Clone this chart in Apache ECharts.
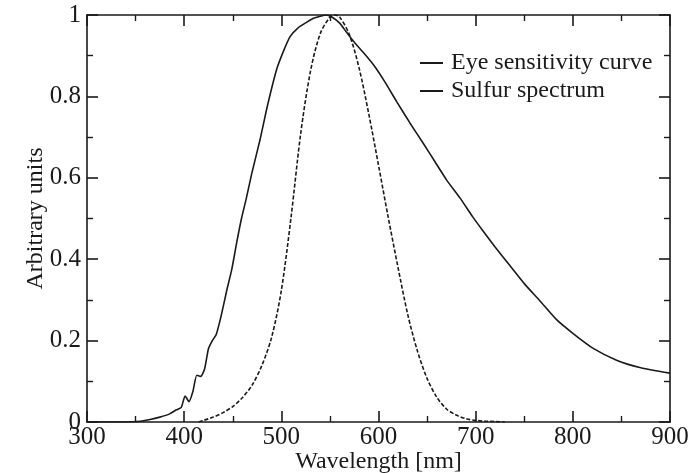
<!DOCTYPE html>
<html>
<head>
<meta charset="utf-8">
<script src="https://cdn.jsdelivr.net/npm/echarts@6/dist/echarts.min.js"></script>
<style>
  html, body { margin: 0; padding: 0; background: #fff; }
  #myChart { width: 697px; height: 473px; }
</style>
</head>
<body>
<div id="myChart"></div>
<script>
// 人眼视觉曲线 (dashed)
const eyeWl = [415, 420, 430, 440, 450, 460, 470, 480, 490, 500, 510, 520, 530, 540, 550, 555,
  560, 570, 580, 590, 600, 610, 620, 630, 640, 650, 660, 670, 680, 690, 700, 710, 720, 730];
const eyeVal = [0, 0.004, 0.012, 0.023, 0.038, 0.06, 0.091, 0.139, 0.208, 0.323, 0.503, 0.71, 0.862, 0.954, 0.995, 1.0,
  0.995, 0.952, 0.87, 0.757, 0.631, 0.503, 0.381, 0.265, 0.175, 0.107, 0.061, 0.032, 0.017, 0.008, 0.004, 0.002, 0.001, 0];

// 硫灯光谱 (solid)
const sulfurWl = [300, 340, 355, 365, 375, 385, 392, 397, 401, 405, 409, 413, 417, 421, 425, 429, 433, 438, 444, 449,
  454, 459, 464, 470, 478, 486, 495, 502, 509, 517, 526, 533, 540, 546, 552, 560, 567, 574, 584, 595,
  607, 619, 632, 646, 658, 670, 684, 697, 708, 720, 735, 750, 766, 783, 800, 821, 845, 869, 900];
const sulfurVal = [0, 0, 0.002, 0.006, 0.012, 0.02, 0.03, 0.036, 0.064, 0.05, 0.075, 0.115, 0.112, 0.13, 0.18, 0.2, 0.215, 0.26, 0.325, 0.375,
  0.44, 0.5, 0.55, 0.615, 0.693, 0.78, 0.865, 0.91, 0.947, 0.968, 0.982, 0.992, 0.997, 1.0, 0.995, 0.98, 0.958, 0.936, 0.909, 0.877,
  0.834, 0.786, 0.736, 0.685, 0.64, 0.595, 0.55, 0.504, 0.468, 0.43, 0.385, 0.34, 0.298, 0.252, 0.218, 0.181, 0.152, 0.134, 0.12];

const seriesNames = ['Eye sensitivity curve', 'Sulfur spectrum'];

const FONT = 'Liberation Serif';
const INK = '#1a1a1a';

function pairs(xs, ys) {
  return xs.map((x, i) => [x, ys[i]]);
}

function frameAxis(extra) {
  return Object.assign({
    axisLine: { show: true, onZero: false, lineStyle: { color: INK, width: 1.6 } },
    axisTick: { show: true, inside: true, length: 11, lineStyle: { color: INK, width: 1.6 } },
    minorTick: { show: true, splitNumber: 2, length: 6, lineStyle: { color: INK, width: 1.4 } },
    splitLine: { show: false },
    minorSplitLine: { show: false },
  }, extra);
}

const myChart = echarts.init(document.getElementById('myChart'));
myChart.setOption({
  animation: false,
  textStyle: { fontFamily: FONT },
  grid: {
    left: 87,
    right: 27,
    top: 15,
    bottom: 51,
    outerBoundsMode: 'none',
  },
  legend: {
    data: seriesNames,
    orient: 'vertical',
    left: 415,
    top: 46,
    icon: 'rect',
    itemWidth: 23,
    itemHeight: 2,
    itemGap: 4,
    textStyle: { fontFamily: FONT, fontSize: 24, color: INK, padding: [0, 0, 0, 3] },
  },
  xAxis: [
    frameAxis({
      type: 'value',
      min: 300,
      max: 900,
      interval: 100,
      name: 'Wavelength [nm]',
      nameLocation: 'middle',
      nameGap: 28,
      nameMoveOverlap: false,
      nameTextStyle: { fontFamily: FONT, fontSize: 24, color: INK },
      axisLabel: { fontFamily: FONT, fontSize: 25, color: INK, margin: 3 },
    }),
    frameAxis({
      type: 'value',
      position: 'top',
      min: 300,
      max: 900,
      interval: 100,
      axisLabel: { show: false },
    }),
  ],
  yAxis: [
    frameAxis({
      type: 'value',
      min: 0,
      max: 1,
      interval: 0.2,
      name: 'Arbitrary units',
      nameLocation: 'middle',
      nameGap: 39,
      nameMoveOverlap: false,
      nameTextStyle: { fontFamily: FONT, fontSize: 24, color: INK },
      axisLabel: {
        fontFamily: FONT,
        fontSize: 25,
        color: INK,
        margin: 6,
        formatter(value) {
          if (value === 0 || value === 1) {
            return String(value);
          }
          return value.toFixed(1);
        },
      },
    }),
    frameAxis({
      type: 'value',
      position: 'right',
      min: 0,
      max: 1,
      interval: 0.2,
      axisLabel: { show: false },
    }),
  ],
  series: [
    {
      name: seriesNames[0],
      type: 'line',
      data: pairs(eyeWl, eyeVal),
      symbol: 'none',
      smooth: 0.3,
      lineStyle: { color: INK, width: 1.6, type: [4, 2] },
      itemStyle: { color: INK },
    },
    {
      name: seriesNames[1],
      type: 'line',
      data: pairs(sulfurWl, sulfurVal),
      symbol: 'none',
      smooth: 0.2,
      lineStyle: { color: INK, width: 1.6 },
      itemStyle: { color: INK },
    },
  ],
});
</script>
</body>
</html>
